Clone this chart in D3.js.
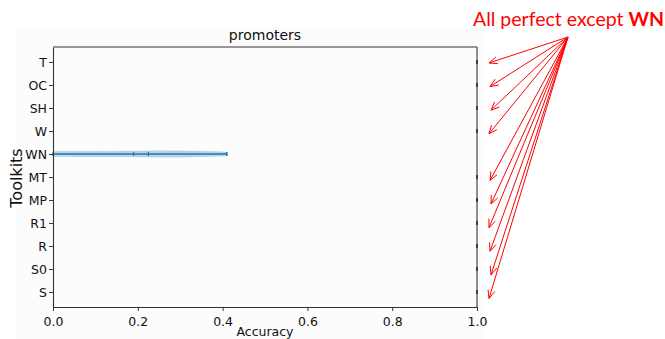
<!DOCTYPE html>
<html>
<head>
<meta charset="utf-8">
<script src="https://cdn.jsdelivr.net/npm/d3@7"></script>
<style>
  body { margin: 0; background: #fff; }
  svg { display: block; font-family: "DejaVu Sans", sans-serif; }
</style>
</head>
<body>
<svg id="chart" width="665" height="339"></svg>
<script>
// toolkits, top to bottom
const toolkits = ["T", "OC", "SH", "W", "WN", "MT", "MP", "R1", "R", "S0", "S"];
// accuracy of every toolkit (all perfect except WN)
const minAcc = [1, 1, 1, 1, 0.0, 1, 1, 1, 1, 1, 1];
const maxAcc = [1, 1, 1, 1, 0.41, 1, 1, 1, 1, 1, 1];
const meanAcc = [1, 1, 1, 1, 0.19, 1, 1, 1, 1, 1, 1];
const medianAcc = [1, 1, 1, 1, 0.225, 1, 1, 1, 1, 1, 1];
// WN violin body: accuracy points and half width (in row units)
const wnKdeX = [0, 0.05, 0.1, 0.15, 0.2, 0.25, 0.3, 0.35, 0.4, 0.41];
const wnKdeW = [0.11, 0.12, 0.12, 0.12, 0.13, 0.14, 0.14, 0.12, 0.1, 0.08];
const xTicks = [0, 0.2, 0.4, 0.6, 0.8, 1.0];
const note = ["All perfect except ", "WN"];

const margin = { top: 47, right: 188, bottom: 32, left: 53 };
const W = 665, H = 339;
const svg = d3.select("#chart");

// faint figure background like the saved matplotlib image
svg.append("rect").attr("x", 15).attr("y", 27).attr("width", 470).attr("height", 312)
  .attr("fill", "#fcfcfc");

const x = d3.scaleLinear().domain([0, 1]).range([margin.left, W - margin.right]);
const y = d3.scaleLinear().domain([0.35, 11.65]).range([margin.top, H - margin.bottom]);
const yPos = (i) => y(i + 1);

const rows = toolkits.map((t, i) => ({ t, i, min: minAcc[i], max: maxAcc[i], mean: meanAcc[i], median: medianAcc[i] }));
const blue = "#1f77b4";

// violin body for WN
const wnIdx = toolkits.indexOf("WN");
const pts = wnKdeX.map((v, k) => ({ v, w: wnKdeW[k] }));
const area = d3.area()
  .x(d => x(d.v))
  .y0(d => y(wnIdx + 1 - d.w))
  .y1(d => y(wnIdx + 1 + d.w))
  .curve(d3.curveBasis);
svg.append("path").datum(pts).attr("d", area)
  .attr("fill", blue).attr("fill-opacity", 0.3).attr("stroke", blue).attr("stroke-opacity", 0.2).attr("stroke-width", 0.5);

// range lines
svg.selectAll(".rng").data(rows).join("line").attr("class", "rng")
  .attr("x1", d => x(d.min)).attr("x2", d => x(d.max))
  .attr("y1", d => yPos(d.i)).attr("y2", d => yPos(d.i))
  .attr("stroke", blue).attr("stroke-width", 1.6);

// end caps, mean and median ticks
const capH = 2;
[["min", 1.2], ["max", 1.6], ["mean", 1.2], ["median", 1.2]].forEach(([k, sw]) => {
  svg.selectAll(".cap-" + k).data(rows).join("line").attr("class", "cap-" + k)
    .attr("x1", d => x(d[k])).attr("x2", d => x(d[k]))
    .attr("y1", d => yPos(d.i) - capH).attr("y2", d => yPos(d.i) + capH)
    .attr("stroke", d => d.min === d.max ? "#1a4f7a" : blue).attr("stroke-width", sw);
});

// axes
const xAxis = d3.axisBottom(x).tickValues(xTicks).tickFormat(d3.format(".1f")).tickSize(4).tickSizeOuter(0);
const gx = svg.append("g").attr("transform", `translate(0,${H - margin.bottom})`).call(xAxis);
const yAxis = d3.axisLeft(y).tickValues(d3.range(1, 12)).tickFormat(d => toolkits[d - 1]).tickSize(4).tickSizeOuter(0);
const gy = svg.append("g").attr("transform", `translate(${margin.left},0)`).call(yAxis);
[gx, gy].forEach(g => {
  g.selectAll("text").attr("font-family", "DejaVu Sans").attr("font-size", 12.5).attr("fill", "#111");
  g.selectAll("line").attr("stroke", "#222").attr("stroke-width", 0.9);
  g.select(".domain").attr("stroke", "#333").attr("stroke-width", 1.1);
});
gx.selectAll("text").attr("dy", "0.95em");
gy.selectAll("text").attr("dy", "0.36em").attr("x", -6);

// frame top and right
svg.append("line").attr("x1", x(0)).attr("x2", x(1)).attr("y1", margin.top).attr("y2", margin.top)
  .attr("stroke", "#333").attr("stroke-width", 1.1);
svg.append("line").attr("x1", x(1)).attr("x2", x(1)).attr("y1", margin.top).attr("y2", H - margin.bottom)
  .attr("stroke", "#333").attr("stroke-width", 1.1);

// titles
svg.append("text").attr("x", (x(0) + x(1)) / 2).attr("y", 40).attr("text-anchor", "middle")
  .attr("font-size", 14).attr("fill", "#111").text("promoters");
svg.append("text").attr("x", (x(0) + x(1)) / 2).attr("y", 336).attr("text-anchor", "middle")
  .attr("font-size", 12.5).attr("fill", "#111").text("Accuracy");
svg.append("text").attr("transform", `translate(22,${(y(1) + y(11)) / 2 + 1}) rotate(-90)`)
  .attr("text-anchor", "middle").attr("font-size", 16).attr("fill", "#111").text("Toolkits");

// annotation
const red = "#ff0000";
const t = svg.append("text").attr("x", 664).attr("y", 26).attr("text-anchor", "end")
  .attr("font-family", "Lato, 'Open Sans', sans-serif").attr("font-size", 19.5).attr("fill", red);
t.append("tspan").text(note[0]);
t.append("tspan").attr("font-weight", "bold").text(note[1]);

const origin = [568, 37];
const perfect = rows.filter(d => d.min === 1 && d.max === 1);
const arrows = svg.append("g").attr("stroke", red).attr("stroke-width", 1).attr("fill", "none");
perfect.forEach((d, k) => {
  const tx = x(1) + 12 + (k % 3);
  const ty = yPos(d.i) + 1 + k * 0.6;
  arrows.append("line").attr("x1", origin[0]).attr("y1", origin[1]).attr("x2", tx).attr("y2", ty);
  const ang = Math.atan2(origin[1] - ty, origin[0] - tx);
  const len = 9, spread = 0.4;
  arrows.append("path").attr("d",
    `M${tx + len * Math.cos(ang + spread)},${ty + len * Math.sin(ang + spread)}L${tx},${ty}L${tx + len * Math.cos(ang - spread)},${ty + len * Math.sin(ang - spread)}`);
});
</script>
</body>
</html>
